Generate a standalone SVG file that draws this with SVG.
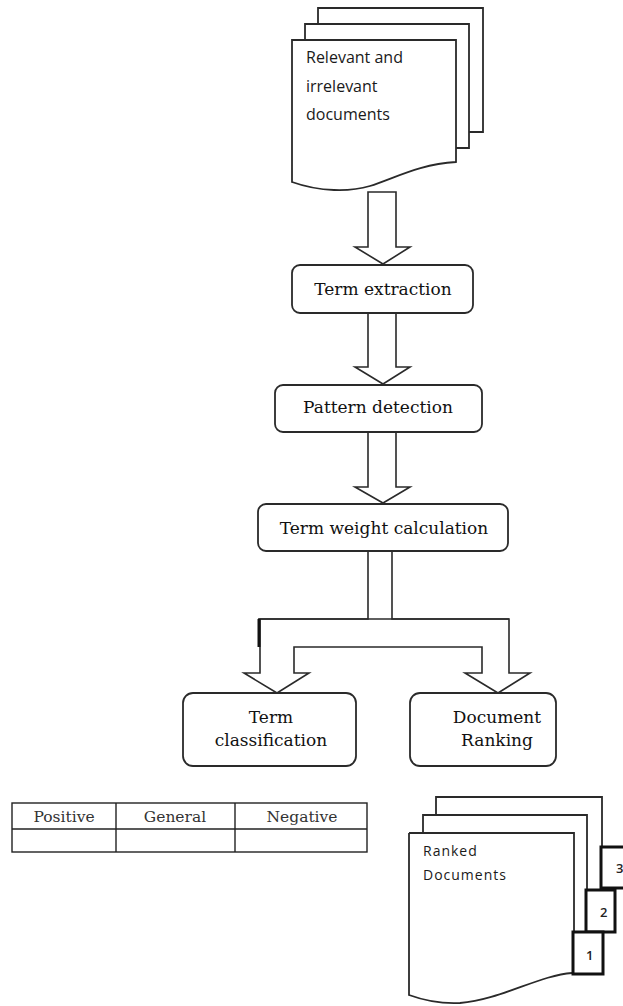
<svg xmlns="http://www.w3.org/2000/svg" width="623" height="1006" viewBox="0 0 623 1006">
<style>
.page{fill:#fff;stroke:#2a2a2a;stroke-width:1.8;stroke-linejoin:miter}
.box{fill:#fff;stroke:#2a2a2a;stroke-width:1.8}
.num{fill:#fff;stroke:#111;stroke-width:3}
.arrow{fill:#fff;stroke:#2a2a2a;stroke-width:1.6;stroke-linejoin:miter}
.lbl{font-family:"DejaVu Serif","Liberation Serif",serif;font-size:17px;fill:#111;text-anchor:middle}
.doc{font-family:"Open Sans","Noto Sans",sans-serif;font-size:16px;fill:#1a1a1a}
.rdoc{font-family:"Open Sans","Noto Sans",sans-serif;font-size:14px;letter-spacing:1px;fill:#1a1a1a}
.tbl{font-family:"DejaVu Serif","Liberation Serif",serif;font-size:15.5px;fill:#333;text-anchor:middle}
.n{font-family:"Open Sans","Noto Sans",sans-serif;font-size:13px;font-weight:600;fill:#222}
</style>
<rect width="623" height="1006" fill="#fff"/>

<g id="input-documents">
<path class="page" d="M318,24 V8 H483 V132 H469"/>
<path class="page" d="M305,40 V24 H469 V148 H456"/>
<path class="page" d="M292,40 H456 V162 C420,164 395,178 370,186 C350,192 320,192 292,182 Z"/>
<text class="doc" x="306" y="63">Relevant and</text>
<text class="doc" x="306" y="92">irrelevant</text>
<text class="doc" x="306" y="120">documents</text>
</g>

<g id="connectors">
<polygon class="arrow" points="368,192 396,192 396,247 410,247 383,264 355,247 368,247"/>
<polygon class="arrow" points="368,313 396,313 396,367 410,367 383,384 355,367 368,367"/>
<polygon class="arrow" points="368,432 396,432 396,487 410,487 383,503 355,487 368,487"/>
<path class="arrow" d="M368,551 H392 V619 H509 V673 H530 L498,693 L465,673 H482 V647 H294 V673 H309 L277,693 L244,673 H260 V619 H368 Z"/>
<line x1="258" y1="619" x2="509" y2="619" stroke="#2a2a2a" stroke-width="1.6"/>
<line x1="259" y1="619" x2="259" y2="647" stroke="#111" stroke-width="3"/>
</g>

<g id="term-extraction">
<rect class="box" x="292" y="265" width="181" height="48" rx="8"/>
<text class="lbl" x="383" y="295">Term extraction</text>
</g>

<g id="pattern-detection">
<rect class="box" x="275" y="385" width="207" height="47" rx="8"/>
<text class="lbl" x="378" y="413">Pattern detection</text>
</g>

<g id="term-weight-calculation">
<rect class="box" x="258" y="504" width="250" height="47" rx="8"/>
<text class="lbl" x="384" y="534">Term weight calculation</text>
</g>

<g id="term-classification">
<rect class="box" x="183" y="693" width="173" height="73" rx="10"/>
<text class="lbl" x="271" y="723">Term</text>
<text class="lbl" x="271" y="746">classification</text>
</g>

<g id="document-ranking">
<rect class="box" x="410" y="693" width="146" height="73" rx="10"/>
<text class="lbl" x="497" y="723">Document</text>
<text class="lbl" x="497" y="746">Ranking</text>
</g>

<g id="classification-table" fill="none" stroke="#222" stroke-width="1.4">
<rect x="12" y="803" width="355" height="49" fill="#fff"/>
<line x1="12" y1="829" x2="367" y2="829"/>
<line x1="116" y1="803" x2="116" y2="852"/>
<line x1="235" y1="803" x2="235" y2="852"/>
<text class="tbl" x="64" y="822" stroke="none">Positive</text>
<text class="tbl" x="175" y="822" stroke="none">General</text>
<text class="tbl" x="302" y="822" stroke="none">Negative</text>
</g>

<g id="ranked-documents">
<path class="page" d="M436,815 V797 H602 V847"/>
<rect class="num" x="601" y="847" width="30" height="41"/>
<text class="n" x="616" y="873">3</text>
<path class="page" d="M423,833 V815 H587 V891"/>
<rect class="num" x="586" y="890" width="29" height="42"/>
<text class="n" x="600" y="917">2</text>
<path class="page" d="M409,833 H574 V934 M572,973 C540,975 500,1000 460,1003 C440,1004 420,999 409,995 V833" fill="#fff"/>
<rect class="num" x="573" y="932" width="30" height="42"/>
<text class="n" x="586" y="960">1</text>
<text class="rdoc" x="423" y="856">Ranked</text>
<text class="rdoc" x="423" y="880">Documents</text>
</g>
</svg>
